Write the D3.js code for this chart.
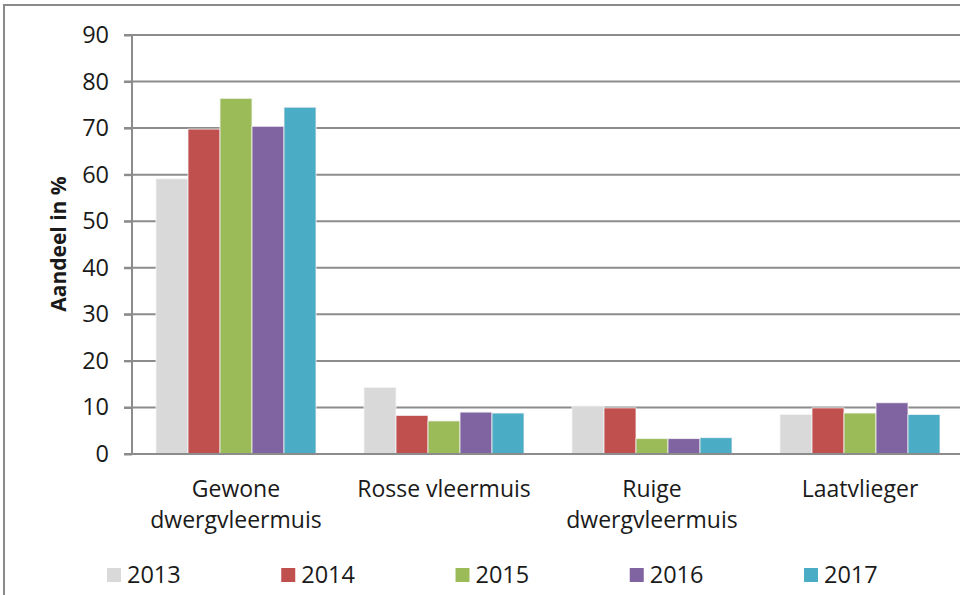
<!DOCTYPE html>
<html>
<head>
<meta charset="utf-8">
<script src="https://cdn.jsdelivr.net/npm/d3@7"></script>
<style>
    body { margin: 0; background: #fff; }
    svg text { font-family: "Open Sans", sans-serif; fill: #1a1a1a; }
</style>
</head>
<body>
<div id="chart"></div>
<script>
// categories (two-line labels) and the years in the legend
var categories = ["Gewone dwergvleermuis", "Rosse vleermuis", "Ruige dwergvleermuis", "Laatvlieger"];
var categoryLines = [["Gewone", "dwergvleermuis"], ["Rosse vleermuis"], ["Ruige", "dwergvleermuis"], ["Laatvlieger"]];
var years = ["2013", "2014", "2015", "2016", "2017"];
var yearColors = ["#d9d9d9", "#c0504d", "#9bbb59", "#8064a2", "#4bacc6"];

// share in % per year, one entry per category
var values2013 = [59.1, 14.3, 10.3, 8.5];
var values2014 = [69.8, 8.3, 9.9, 9.9];
var values2015 = [76.4, 7.1, 3.3, 8.8];
var values2016 = [70.4, 9.0, 3.3, 11.0];
var values2017 = [74.5, 8.8, 3.5, 8.5];

var yTicks = [0, 10, 20, 30, 40, 50, 60, 70, 80, 90];

var seriesValues = [values2013, values2014, values2015, values2016, values2017];

// flatten into one record per bar
var barData = [];
for (var i = 0; i < categories.length; i++) {
    for (var j = 0; j < years.length; j++) {
        barData.push({ category: categories[i], year: years[j], value: seriesValues[j][i] });
    }
}

var width = 960, height = 595;
var svg = d3.select("#chart")
    .append("svg")
    .attr("width", width)
    .attr("height", height);

// outer chart border (cropped on the right and bottom)
svg.append("rect")
    .attr("x", 4).attr("y", 5)
    .attr("width", 1000).attr("height", 700)
    .attr("fill", "none")
    .attr("stroke", "#8a8a8a")
    .attr("stroke-width", 2);

var x = d3.scaleBand()
    .domain(categories)
    .range([132, 964])
    .padding(0);

var xInner = d3.scaleBand()
    .domain(years)
    .range([24, x.bandwidth() - 24])
    .padding(0);

var y = d3.scaleLinear()
    .domain([0, 90])
    .range([454, 35]);

var color = d3.scaleOrdinal().domain(years).range(yearColors);

// gridlines
svg.append("g")
    .selectAll("line")
    .data(yTicks)
    .enter()
    .append("line")
    .attr("x1", 124)
    .attr("x2", 970)
    .attr("y1", function (d) { return y(d); })
    .attr("y2", function (d) { return y(d); })
    .attr("stroke", "#8c8c8c")
    .attr("stroke-width", 2);

// bars
svg.append("g")
    .selectAll("rect")
    .data(barData)
    .enter()
    .append("rect")
    .attr("x", function (d) { return x(d.category) + xInner(d.year); })
    .attr("y", function (d) { return y(d.value); })
    .attr("width", xInner.bandwidth())
    .attr("height", function (d) { return y(0) - y(d.value); })
    .attr("fill", function (d) { return color(d.year); })
    .attr("stroke", "#f4f4f4")
    .attr("stroke-width", 0.8);

// y axis
var yaxis = svg.append("g")
    .attr("transform", "translate(132,0)")
    .call(d3.axisLeft(y).tickValues(yTicks).tickSize(8).tickPadding(15));

yaxis.select(".domain")
    .attr("stroke", "#8c8c8c")
    .attr("stroke-width", 2)
    .attr("d", "M0," + y(90) + "V" + (y(0) + 1));
yaxis.selectAll(".tick line")
    .attr("stroke", "#8c8c8c")
    .attr("stroke-width", 2);
yaxis.selectAll(".tick text")
    .attr("font-family", "Open Sans, sans-serif")
    .attr("font-size", "23.5px")
    .attr("fill", "#1a1a1a");

// x axis baseline
svg.append("line")
    .attr("x1", 132).attr("x2", 970)
    .attr("y1", y(0)).attr("y2", y(0))
    .attr("stroke", "#8c8c8c")
    .attr("stroke-width", 2);

// category labels
var catLabels = svg.append("g")
    .selectAll("text")
    .data(categories)
    .enter()
    .append("text")
    .attr("text-anchor", "middle")
    .attr("font-size", "23px")
    .attr("x", function (d) { return x(d) + x.bandwidth() / 2; })
    .attr("y", 497);

catLabels.selectAll("tspan")
    .data(function (d, i) { return categoryLines[i]; })
    .enter()
    .append("tspan")
    .attr("x", function () { var c = d3.select(this.parentNode).datum(); return x(c) + x.bandwidth() / 2; })
    .attr("dy", function (d, i) { return i === 0 ? 0 : 31; })
    .text(function (d) { return d; });

// y axis title
svg.append("text")
    .attr("transform", "translate(66,244) rotate(-90)")
    .attr("text-anchor", "middle")
    .attr("font-size", "21px")
    .attr("font-weight", "bold")
    .text("Aandeel in %");

// legend
var legendX = d3.scalePoint()
    .domain(years)
    .range([107, 804]);

var legend = svg.append("g")
    .selectAll("g")
    .data(years)
    .enter()
    .append("g")
    .attr("transform", function (d) { return "translate(" + legendX(d) + ",568)"; });

legend.append("rect")
    .attr("width", 14)
    .attr("height", 14)
    .attr("fill", function (d) { return color(d); });

legend.append("text")
    .attr("x", 20)
    .attr("y", 15)
    .attr("font-size", "23.5px")
    .text(function (d) { return d; });
</script>
</body>
</html>
